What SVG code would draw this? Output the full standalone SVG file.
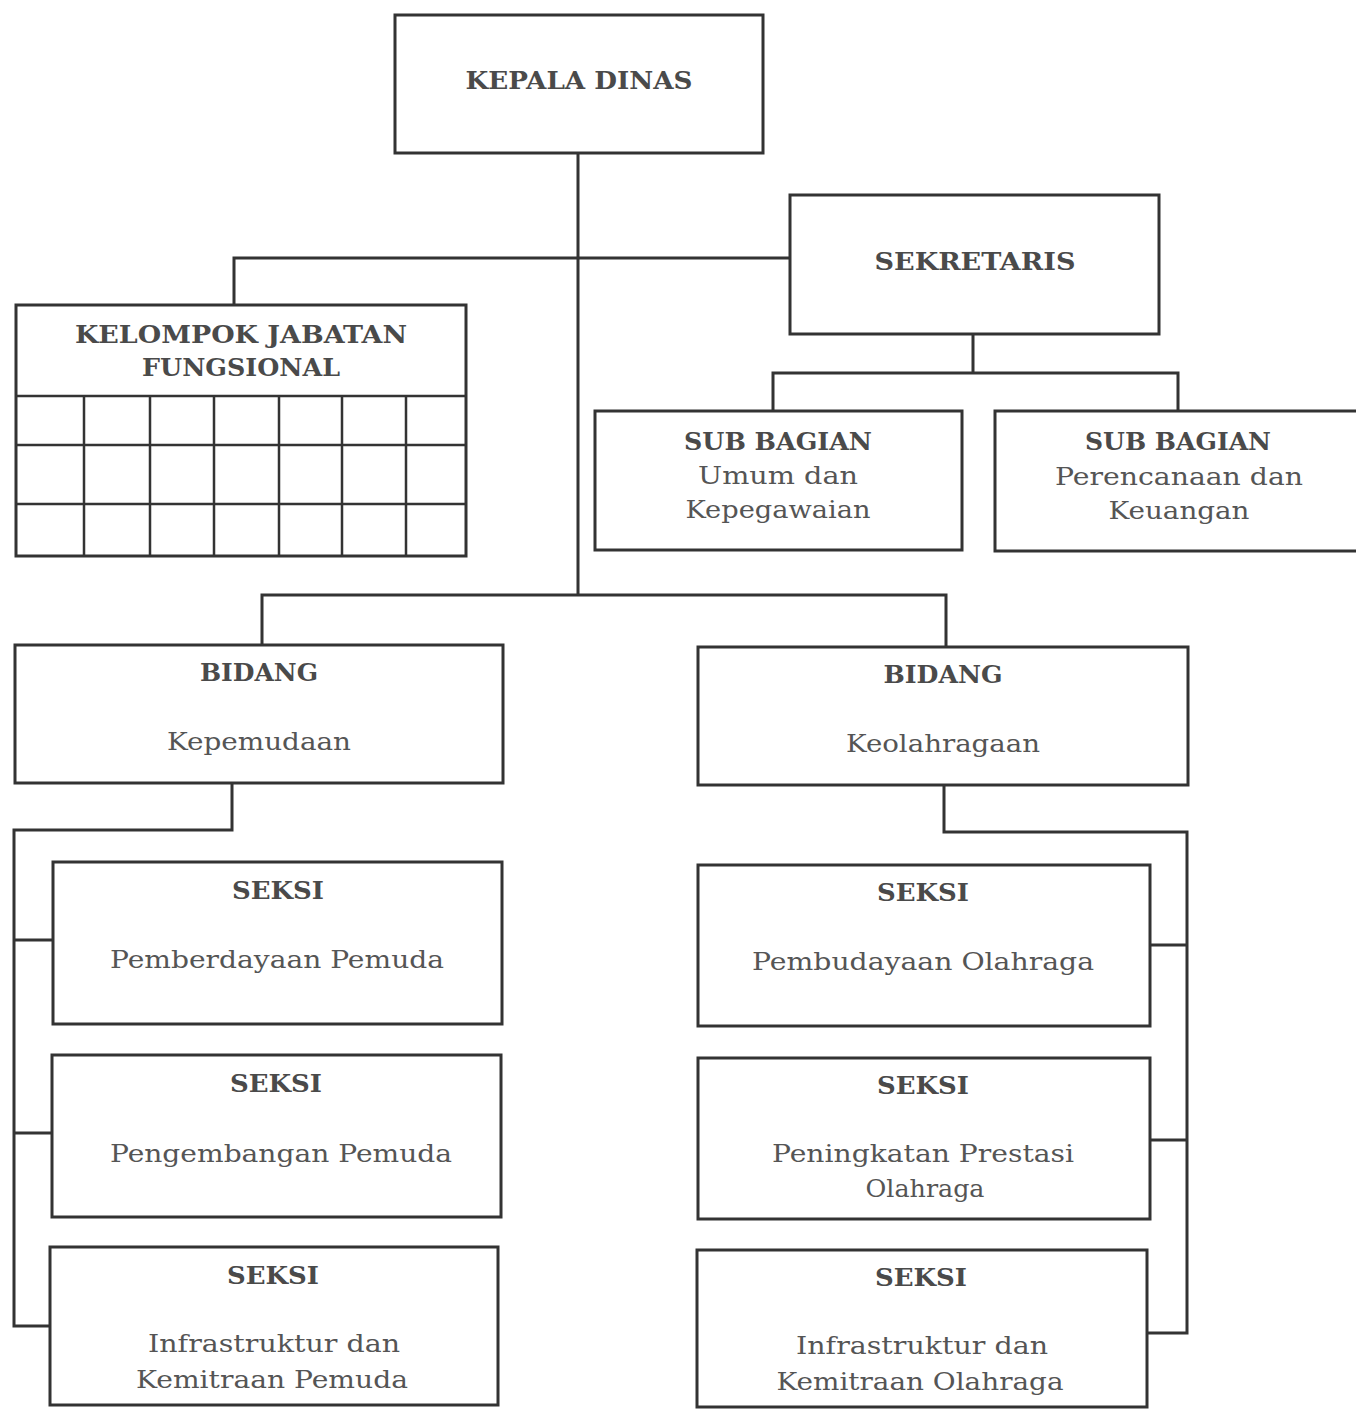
<svg xmlns="http://www.w3.org/2000/svg" width="1356" height="1409" viewBox="0 0 1356 1409">
<style>
.box{fill:#fff;stroke:#333;stroke-width:3}
.ln{fill:none;stroke:#333;stroke-width:3}
.grid{fill:none;stroke:#333;stroke-width:2.5}
.b{font-family:"DejaVu Serif","Liberation Serif",serif;font-weight:bold;font-size:24px;fill:#4a4a4a;text-anchor:middle}
.r{font-family:"DejaVu Serif","Liberation Serif",serif;font-size:25px;fill:#555;text-anchor:middle}
</style>
<rect width="1356" height="1409" fill="#fff"/>
<g id="connectors">
<path class="ln" d="M578 153V595"/>
<path class="ln" d="M234 305V258H790"/>
<path class="ln" d="M973 334V373M773 411V373H1178V411"/>
<path class="ln" d="M262 645V595H946V647"/>
<path class="ln" d="M232 783V830H14V1326H50M14 940H53M14 1133H52"/>
<path class="ln" d="M944 785V832H1187V1333H1147M1187 945H1150M1187 1140H1150"/>
</g>
<g id="kepala-dinas"><rect class="box" x="395" y="15" width="368" height="138"/><text class="b" x="579" y="89" textLength="227" lengthAdjust="spacingAndGlyphs">KEPALA DINAS</text></g>
<g id="sekretaris"><rect class="box" x="790" y="195" width="369" height="139"/><text class="b" x="975" y="270" textLength="201" lengthAdjust="spacingAndGlyphs">SEKRETARIS</text></g>
<g id="kelompok-jabatan-fungsional">
<rect class="box" x="16" y="305" width="450" height="251"/>
<path class="grid" d="M16 396H466M16 445H466M16 504H466M84 396V556M150 396V556M214 396V556M279 396V556M342 396V556M406 396V556"/>
<text class="b" x="241" y="343" textLength="332" lengthAdjust="spacingAndGlyphs">KELOMPOK JABATAN</text>
<text class="b" x="241" y="376" textLength="198" lengthAdjust="spacingAndGlyphs">FUNGSIONAL</text>
</g>
<g id="subbag-umum"><rect class="box" x="595" y="411" width="367" height="139"/>
<text class="b" x="778" y="450" textLength="188" lengthAdjust="spacingAndGlyphs">SUB BAGIAN</text>
<text class="r" x="778" y="484" textLength="160" lengthAdjust="spacingAndGlyphs">Umum dan</text>
<text class="r" x="778" y="518" textLength="185" lengthAdjust="spacingAndGlyphs">Kepegawaian</text></g>
<g id="subbag-perencanaan"><rect class="box" x="995" y="411" width="370" height="140"/>
<text class="b" x="1178" y="450" textLength="186" lengthAdjust="spacingAndGlyphs">SUB BAGIAN</text>
<text class="r" x="1179" y="485" textLength="248" lengthAdjust="spacingAndGlyphs">Perencanaan dan</text>
<text class="r" x="1179" y="519" textLength="141" lengthAdjust="spacingAndGlyphs">Keuangan</text></g>
<g id="bidang-kepemudaan"><rect class="box" x="15" y="645" width="488" height="138"/>
<text class="b" x="259" y="681" textLength="118" lengthAdjust="spacingAndGlyphs">BIDANG</text>
<text class="r" x="259" y="750" textLength="184" lengthAdjust="spacingAndGlyphs">Kepemudaan</text></g>
<g id="bidang-keolahragaan"><rect class="box" x="698" y="647" width="490" height="138"/>
<text class="b" x="943" y="683" textLength="119" lengthAdjust="spacingAndGlyphs">BIDANG</text>
<text class="r" x="943" y="752" textLength="194" lengthAdjust="spacingAndGlyphs">Keolahragaan</text></g>
<g id="seksi-pemberdayaan"><rect class="box" x="53" y="862" width="449" height="162"/>
<text class="b" x="278" y="899" textLength="92" lengthAdjust="spacingAndGlyphs">SEKSI</text>
<text class="r" x="277" y="968" textLength="334" lengthAdjust="spacingAndGlyphs">Pemberdayaan Pemuda</text></g>
<g id="seksi-pengembangan"><rect class="box" x="52" y="1055" width="449" height="162"/>
<text class="b" x="276" y="1092" textLength="92" lengthAdjust="spacingAndGlyphs">SEKSI</text>
<text class="r" x="281" y="1162" textLength="342" lengthAdjust="spacingAndGlyphs">Pengembangan Pemuda</text></g>
<g id="seksi-infra-pemuda"><rect class="box" x="50" y="1247" width="448" height="158"/>
<text class="b" x="273" y="1284" textLength="92" lengthAdjust="spacingAndGlyphs">SEKSI</text>
<text class="r" x="274" y="1352" textLength="252" lengthAdjust="spacingAndGlyphs">Infrastruktur dan</text>
<text class="r" x="272" y="1388" textLength="272" lengthAdjust="spacingAndGlyphs">Kemitraan Pemuda</text></g>
<g id="seksi-pembudayaan"><rect class="box" x="698" y="865" width="452" height="161"/>
<text class="b" x="923" y="901" textLength="92" lengthAdjust="spacingAndGlyphs">SEKSI</text>
<text class="r" x="923" y="970" textLength="342" lengthAdjust="spacingAndGlyphs">Pembudayaan Olahraga</text></g>
<g id="seksi-peningkatan"><rect class="box" x="698" y="1058" width="452" height="161"/>
<text class="b" x="923" y="1094" textLength="92" lengthAdjust="spacingAndGlyphs">SEKSI</text>
<text class="r" x="923" y="1162" textLength="302" lengthAdjust="spacingAndGlyphs">Peningkatan Prestasi</text>
<text class="r" x="925" y="1197" textLength="119" lengthAdjust="spacingAndGlyphs">Olahraga</text></g>
<g id="seksi-infra-olahraga"><rect class="box" x="697" y="1250" width="450" height="157"/>
<text class="b" x="921" y="1286" textLength="92" lengthAdjust="spacingAndGlyphs">SEKSI</text>
<text class="r" x="922" y="1354" textLength="252" lengthAdjust="spacingAndGlyphs">Infrastruktur dan</text>
<text class="r" x="920" y="1390" textLength="287" lengthAdjust="spacingAndGlyphs">Kemitraan Olahraga</text></g>
</svg>
